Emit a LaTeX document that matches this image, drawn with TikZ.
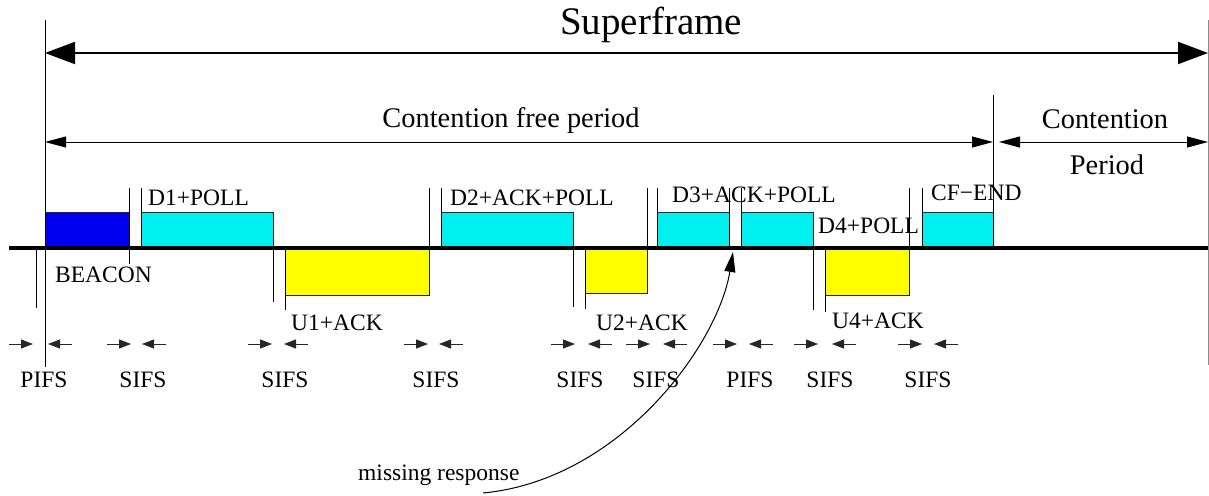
\documentclass[tikz,border=0pt]{standalone}
\usepackage{fontspec}
\setmainfont{Liberation Serif}
\usetikzlibrary{arrows.meta}
\definecolor{beaconblue}{RGB}{0,0,240}
\definecolor{dcyan}{RGB}{0,240,240}
\definecolor{uyellow}{RGB}{255,255,0}
\begin{document}
\begin{tikzpicture}[x=1pt,y=-1pt,
  lbl/.style={font=\fontsize{23.5}{26}\selectfont, inner sep=0pt},
  midlbl/.style={font=\fontsize{28.4}{32}\selectfont, inner sep=0pt},
  biglbl/.style={font=\fontsize{39}{44}\selectfont, inner sep=0pt},
  frame/.style={draw=black!85, line width=0.8pt, inner sep=0pt, outer sep=0pt, anchor=north west},
  tick/.style={line width=0.9pt},
  gaparrow/.style={line width=1pt, black!85, -{Triangle[length=12pt,width=9pt]}},
  spanarrow/.style={line width=1pt, {Triangle[length=21pt,width=11pt]}-{Triangle[length=21pt,width=11pt]}},
]
\useasboundingbox (0,0) rectangle (1209,495);

% ---- packets (boxes)
\node[frame, fill=beaconblue, minimum width=84pt,  minimum height=36pt] (beacon) at (45,212) {};
\node[frame, fill=dcyan,      minimum width=132pt, minimum height=36pt] (d1)     at (141,212) {};
\node[frame, fill=uyellow,    minimum width=144pt, minimum height=47pt] (u1)     at (285,248) {};
\node[frame, fill=dcyan,      minimum width=132pt, minimum height=36pt] (d2)     at (441,212) {};
\node[frame, fill=uyellow,    minimum width=62pt,  minimum height=45pt] (u2)     at (585,248) {};
\node[frame, fill=dcyan,      minimum width=72pt,  minimum height=36pt] (d3)     at (657,212) {};
\node[frame, fill=dcyan,      minimum width=72pt,  minimum height=36pt] (d4)     at (741,212) {};
\node[frame, fill=uyellow,    minimum width=84pt,  minimum height=47pt] (u4)     at (825,248) {};
\node[frame, fill=dcyan,      minimum width=71pt,  minimum height=36pt] (cfend)  at (922,212) {};

% ---- time axis
\coordinate (axL) at (9,248);
\coordinate (axR) at (1209,248);
\draw[line width=3.6pt] (axL) -- (axR);

% ---- vertical marker lines
\foreach \x/\ya/\yb in {36/250/308, 129/188/264, 141/188/248, 273/248/302, 285/248/310,
  429/188/248, 441/188/248, 573/248/307, 585/248/309, 647/188/248, 657/188/248,
  729/188/248, 741/188/248, 813/248/310, 825/248/312, 909/188/248, 922/188/248,
  993/95/248}
  \draw[tick] (\x,\ya) -- (\x,\yb);
\draw[tick] (45,20) -- (45,367);
\draw[line width=0.9pt, black!45] (1208,20) -- (1208,365);

% ---- span arrows
\coordinate (sfL) at (45,53);
\coordinate (sfR) at (1208,53);
\draw[line width=2pt, {Triangle[length=30pt,width=22pt]}-{Triangle[length=30pt,width=22pt]}] (sfL) -- (sfR);
\coordinate (cfL) at (45,142);
\coordinate (cfR) at (993,142);
\draw[spanarrow] (cfL) -- (cfR);
\coordinate (cpL) at (999,142);
\coordinate (cpR) at (1208,142);
\draw[spanarrow] (cpL) -- (cpR);

\node[biglbl, anchor=base] (superframe) at (651,35) {Superframe};
\node[midlbl, anchor=base] (cfp) at (511,127) {Contention free period};
\node[midlbl, anchor=base] (cont) at (1105,128) {Contention};
\node[midlbl, anchor=base] (period) at (1107,174) {Period};

% ---- packet labels
\node[lbl, anchor=base west] (lbeacon) at (55,282) {BEACON};
\node[lbl, anchor=base west] (ld1) at (148,205) {D1+POLL};
\node[lbl, anchor=base west] (lu1) at (291,330) {U1+ACK};
\node[lbl, anchor=base west] (ld2) at (450,205) {D2+ACK+POLL};
\node[lbl, anchor=base west] (lu2) at (596,330) {U2+ACK};
\node[lbl, anchor=base west] (ld3) at (672,202) {D3+ACK+POLL};
\node[lbl, anchor=base west] (ld4) at (818,233) {D4+POLL};
\node[lbl, anchor=base west] (lcf) at (931,200) {CF−END};
\node[lbl, anchor=base west] (lu4) at (832,328) {U4+ACK};

% ---- interframe space markers
\foreach \n/\a/\b/\cx/\txt in {1/33/48/44/PIFS, 2/131/142/143/SIFS, 3/272/284/285/SIFS,
  4/428/439/436/SIFS, 5/575/588/580/SIFS, 6/650/663/656/SIFS, 7/737/749/750/PIFS,
  8/818/832/830/SIFS, 9/922/934/928/SIFS}{
  \coordinate (ra\n) at ({\a-24},344);
  \coordinate (rb\n) at (\a,344);
  \coordinate (la\n) at ({\b+24},344);
  \coordinate (lb\n) at (\b,344);
  \draw[gaparrow] (ra\n) -- (rb\n);
  \draw[gaparrow] (la\n) -- (lb\n);
  \node[lbl, anchor=base] (ifs\n) at (\cx,387) {\txt};
}

% ---- missing response
\node[lbl, anchor=base west] (miss) at (358,480) {missing response};
\coordinate (mrs) at (483,493);
\coordinate (mrt) at (733,252);
\draw[line width=1pt, -{Triangle[length=20pt,width=11pt]}] (mrs) .. controls (620,480) and (718,345) .. (mrt);
\end{tikzpicture}
\end{document}
